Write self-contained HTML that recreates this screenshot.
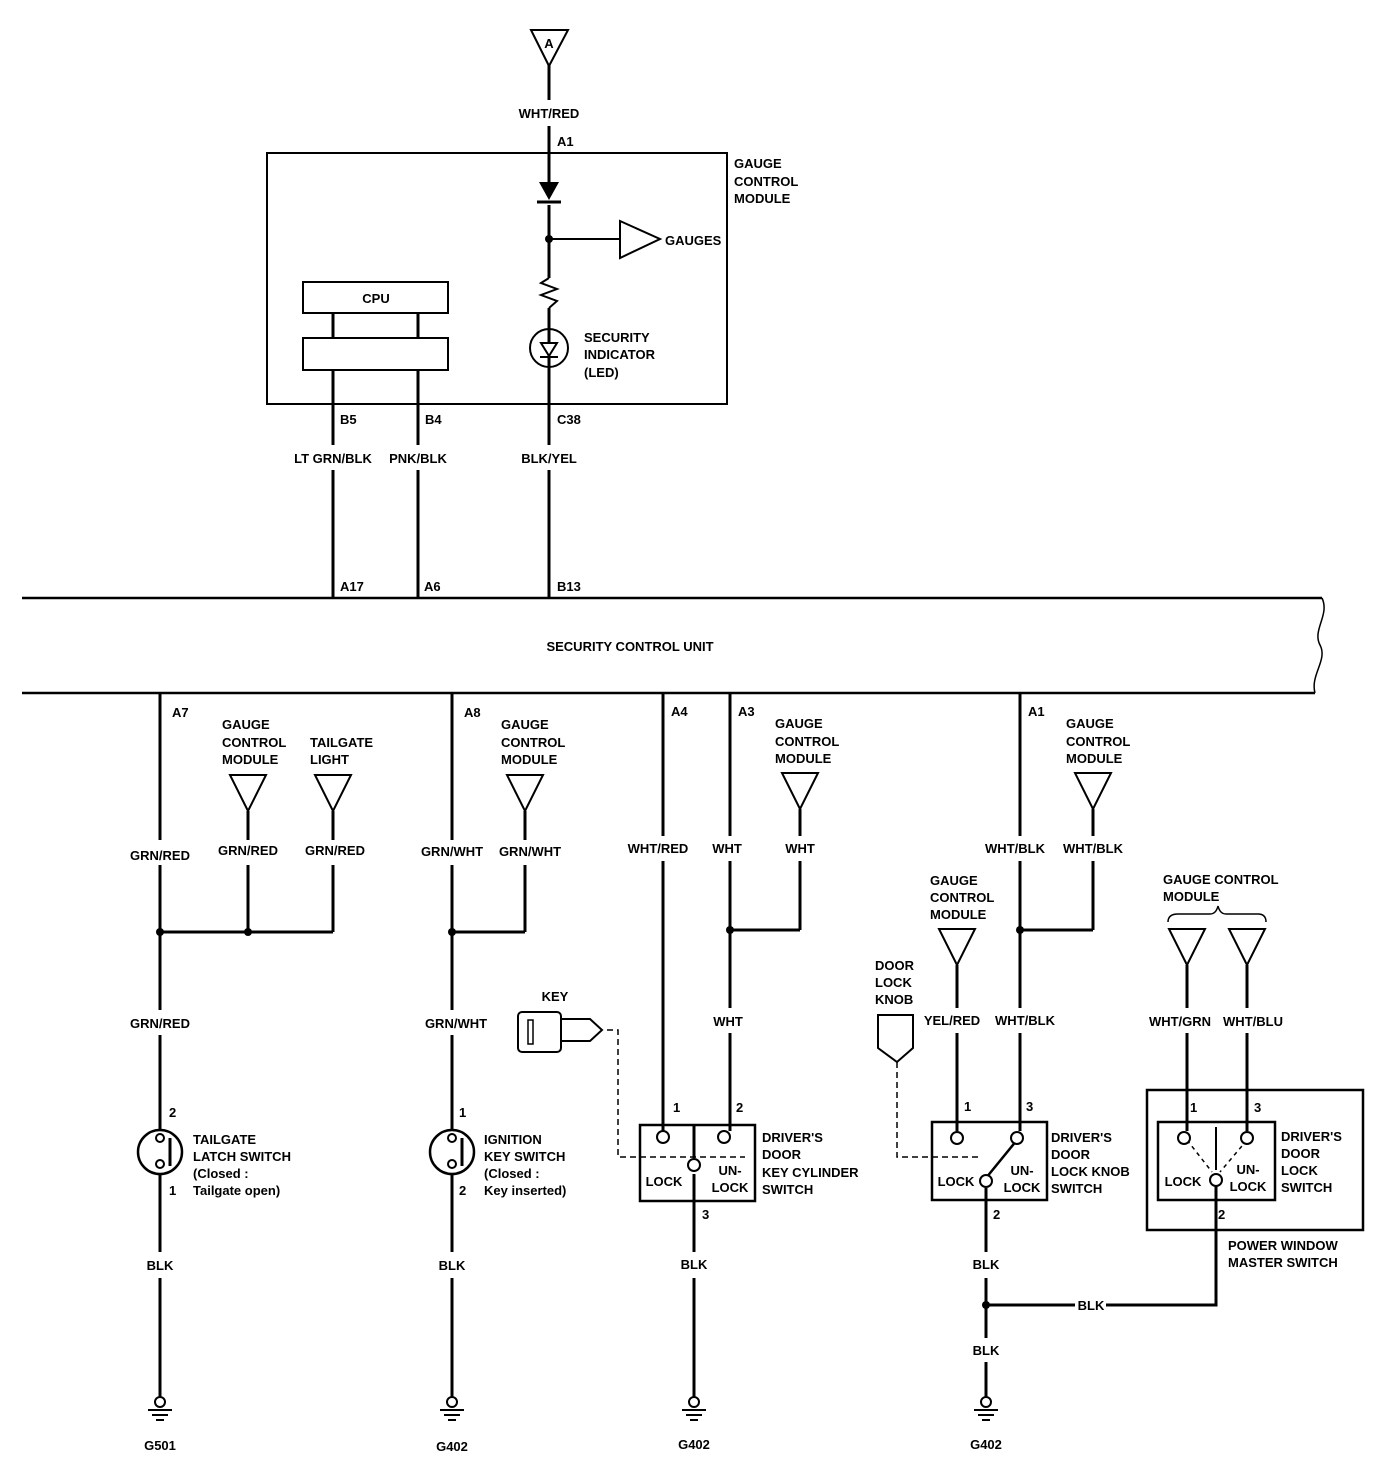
<!DOCTYPE html>
<html><head><meta charset="utf-8"><style>
html,body{margin:0;padding:0;background:#fff}
svg text{font-family:"Liberation Sans Narrow","Liberation Sans",sans-serif;font-weight:bold;font-size:13px;fill:#000}
</style></head><body>
<svg width="1392" height="1474" viewBox="0 0 1392 1474" xmlns="http://www.w3.org/2000/svg">
<defs>
<g id="gnd"><circle cx="0" cy="0" r="5" fill="#fff" stroke="#000" stroke-width="2"/><line x1="-12" y1="8" x2="12" y2="8" stroke="#000" stroke-width="2"/><line x1="-8" y1="13" x2="8" y2="13" stroke="#000" stroke-width="2"/><line x1="-4" y1="18" x2="4" y2="18" stroke="#000" stroke-width="2"/></g>
<g id="tri"><polygon points="-18,0 18,0 0,36" fill="#fff" stroke="#000" stroke-width="2"/></g>
</defs>
<g stroke="#000" fill="none" stroke-width="3">
<!-- top -->
<line x1="549" y1="64" x2="549" y2="100"/>
<line x1="549" y1="126" x2="549" y2="182"/>
<line x1="549" y1="205" x2="549" y2="278"/>
<line x1="549" y1="239" x2="620" y2="239" stroke-width="2"/>
<polyline stroke-width="2" points="549,278 541,283 557,289 541,295 557,301 549,308"/>
<line x1="549" y1="308" x2="549" y2="445"/>
<line x1="549" y1="470" x2="549" y2="598"/>
<line x1="333" y1="313" x2="333" y2="338"/>
<line x1="418" y1="313" x2="418" y2="338"/>
<line x1="333" y1="370" x2="333" y2="445"/><line x1="333" y1="470" x2="333" y2="598"/>
<line x1="418" y1="370" x2="418" y2="445"/><line x1="418" y1="470" x2="418" y2="598"/>
<!-- SCU -->
<line x1="22" y1="598" x2="1322" y2="598" stroke-width="2.5"/>
<line x1="22" y1="693" x2="1315" y2="693" stroke-width="2.5"/>
<path d="M1322 598 C1330 615,1312 630,1320 645 C1328 660,1310 675,1315 693" stroke-width="1.5"/>
<!-- col 160 -->
<line x1="160" y1="693" x2="160" y2="840"/><line x1="160" y1="865" x2="160" y2="1010"/><line x1="160" y1="1035" x2="160" y2="1130"/><line x1="160" y1="1174" x2="160" y2="1252"/><line x1="160" y1="1278" x2="160" y2="1397"/>
<line x1="160" y1="932" x2="333" y2="932"/>
<line x1="248" y1="811" x2="248" y2="840"/><line x1="248" y1="865" x2="248" y2="932"/>
<line x1="333" y1="811" x2="333" y2="840"/><line x1="333" y1="865" x2="333" y2="932"/>
<!-- col 452 -->
<line x1="452" y1="693" x2="452" y2="840"/><line x1="452" y1="865" x2="452" y2="1010"/><line x1="452" y1="1035" x2="452" y2="1130"/><line x1="452" y1="1174" x2="452" y2="1252"/><line x1="452" y1="1278" x2="452" y2="1397"/>
<line x1="452" y1="932" x2="525" y2="932"/>
<line x1="525" y1="811" x2="525" y2="840"/><line x1="525" y1="865" x2="525" y2="932"/>
<!-- col 663/730 -->
<line x1="663" y1="693" x2="663" y2="836"/><line x1="663" y1="861" x2="663" y2="1131"/>
<line x1="730" y1="693" x2="730" y2="836"/><line x1="730" y1="861" x2="730" y2="1008"/><line x1="730" y1="1033" x2="730" y2="1131"/>
<line x1="730" y1="930" x2="800" y2="930"/>
<line x1="800" y1="809" x2="800" y2="836"/><line x1="800" y1="861" x2="800" y2="930"/>
<line x1="694" y1="1125" x2="694" y2="1158"/>
<line x1="694" y1="1174" x2="694" y2="1252"/><line x1="694" y1="1278" x2="694" y2="1397"/>
<!-- col 1020 -->
<line x1="1020" y1="693" x2="1020" y2="836"/><line x1="1020" y1="861" x2="1020" y2="1008"/><line x1="1020" y1="1033" x2="1020" y2="1131"/>
<line x1="1020" y1="930" x2="1093" y2="930"/>
<line x1="1093" y1="809" x2="1093" y2="836"/><line x1="1093" y1="861" x2="1093" y2="930"/>
<line x1="957" y1="965" x2="957" y2="1008"/><line x1="957" y1="1033" x2="957" y2="1131"/>
<line x1="1017" y1="1140" x2="986" y2="1178" stroke-width="2.5"/>
<line x1="986" y1="1188" x2="986" y2="1252"/><line x1="986" y1="1278" x2="986" y2="1338"/><line x1="986" y1="1362" x2="986" y2="1397"/>
<line x1="986" y1="1305" x2="1075" y2="1305"/><polyline points="1106,1305 1216,1305 1216,1186"/>
<!-- power window -->
<line x1="1187" y1="965" x2="1187" y2="1008"/><line x1="1187" y1="1033" x2="1187" y2="1131"/>
<line x1="1247" y1="965" x2="1247" y2="1008"/><line x1="1247" y1="1033" x2="1247" y2="1131"/>
<line x1="1216" y1="1127" x2="1216" y2="1170" stroke-width="2"/>
<!-- boxes -->
<rect x="267" y="153" width="460" height="251" stroke-width="2"/>
<rect x="303" y="282" width="145" height="31" stroke-width="2"/>
<rect x="303" y="338" width="145" height="32" stroke-width="2"/>
<rect x="640" y="1125" width="115" height="76" stroke-width="2.5"/>
<rect x="932" y="1122" width="115" height="78" stroke-width="2.5"/>
<rect x="1147" y="1090" width="216" height="140" stroke-width="2.5"/>
<rect x="1158" y="1122" width="117" height="78" stroke-width="2.5"/>
<!-- dashed -->
<polyline stroke-width="1.5" stroke-dasharray="6,4" points="607,1030 618,1030 618,1157 745,1157"/>
<polyline stroke-width="1.5" stroke-dasharray="6,4" points="897,1062 897,1157 982,1157"/>
<line x1="1187" y1="1140" x2="1212" y2="1172" stroke-width="1.5" stroke-dasharray="4,4"/>
<line x1="1247" y1="1140" x2="1220" y2="1172" stroke-width="1.5" stroke-dasharray="4,4"/>
<!-- key -->
<rect x="518" y="1012" width="43" height="40" rx="4" stroke-width="2"/>
<rect x="528" y="1020" width="5" height="24" stroke-width="1.5"/>
<polyline stroke-width="2" points="561,1019 590,1019 602,1030 590,1041 561,1041"/>
<!-- knob -->
<polygon stroke-width="2" points="878,1015 913,1015 913,1048 897,1062 878,1048"/>
<!-- brace -->
<path d="M1168 922 Q1168 914 1178 914 L1210 914 Q1216 914 1218 906 Q1220 914 1226 914 L1258 914 Q1266 914 1266 922" stroke-width="1.5"/>
</g>
<!-- triangles -->
<polygon points="531,30 568,30 549,66" fill="#fff" stroke="#000" stroke-width="2"/>
<polygon points="620,221 620,258 660,239" fill="#fff" stroke="#000" stroke-width="2"/>
<use href="#tri" x="248" y="775"/><use href="#tri" x="333" y="775"/><use href="#tri" x="525" y="775"/>
<use href="#tri" x="800" y="773"/><use href="#tri" x="1093" y="773"/><use href="#tri" x="957" y="929"/>
<use href="#tri" x="1187" y="929"/><use href="#tri" x="1247" y="929"/>
<!-- diode -->
<polygon points="539,182 559,182 549,200" fill="#000"/>
<line x1="537" y1="202" x2="561" y2="202" stroke="#000" stroke-width="3"/>
<!-- LED -->
<circle cx="549" cy="348" r="19" fill="#fff" stroke="#000" stroke-width="2"/>
<line x1="549" y1="330" x2="549" y2="366" stroke="#000" stroke-width="3"/>
<polygon points="541,343 557,343 549,356" fill="#fff" stroke="#000" stroke-width="2"/>
<line x1="540" y1="357" x2="558" y2="357" stroke="#000" stroke-width="2"/>
<!-- switches round -->
<circle cx="160" cy="1152" r="22" fill="#fff" stroke="#000" stroke-width="2.5"/>
<circle cx="160" cy="1138" r="4" fill="#fff" stroke="#000" stroke-width="2"/><circle cx="160" cy="1164" r="4" fill="#fff" stroke="#000" stroke-width="2"/>
<line x1="170" y1="1138" x2="170" y2="1166" stroke="#000" stroke-width="3"/>
<circle cx="452" cy="1152" r="22" fill="#fff" stroke="#000" stroke-width="2.5"/>
<circle cx="452" cy="1138" r="4" fill="#fff" stroke="#000" stroke-width="2"/><circle cx="452" cy="1164" r="4" fill="#fff" stroke="#000" stroke-width="2"/>
<line x1="462" y1="1138" x2="462" y2="1166" stroke="#000" stroke-width="3"/>
<!-- terminals -->
<g fill="#fff" stroke="#000" stroke-width="2">
<circle cx="663" cy="1137" r="6"/><circle cx="724" cy="1137" r="6"/><circle cx="694" cy="1165" r="6"/>
<circle cx="957" cy="1138" r="6"/><circle cx="1017" cy="1138" r="6"/><circle cx="986" cy="1181" r="6"/>
<circle cx="1184" cy="1138" r="6"/><circle cx="1247" cy="1138" r="6"/><circle cx="1216" cy="1180" r="6"/>
</g>
<circle cx="160" cy="932" r="4"/><circle cx="248" cy="932" r="4"/><circle cx="452" cy="932" r="4"/><circle cx="549" cy="239" r="4"/>
<circle cx="730" cy="930" r="4"/><circle cx="1020" cy="930" r="4"/><circle cx="986" cy="1305" r="4"/>
<!-- grounds -->
<use href="#gnd" x="160" y="1402"/><use href="#gnd" x="452" y="1402"/><use href="#gnd" x="694" y="1402"/><use href="#gnd" x="986" y="1402"/>
<!-- text -->
<g text-anchor="middle">
<text x="549" y="48" font-size="11">A</text>
<text x="549" y="118">WHT/RED</text>
<text x="376" y="303">CPU</text>
<text x="333" y="463">LT GRN/BLK</text><text x="418" y="463">PNK/BLK</text><text x="549" y="463">BLK/YEL</text>
<text x="630" y="651">SECURITY CONTROL UNIT</text>
<text x="160" y="860">GRN/RED</text><text x="248" y="855">GRN/RED</text><text x="335" y="855">GRN/RED</text>
<text x="160" y="1028">GRN/RED</text>
<text x="452" y="856">GRN/WHT</text><text x="530" y="856">GRN/WHT</text><text x="456" y="1028">GRN/WHT</text>
<text x="658" y="853">WHT/RED</text><text x="727" y="853">WHT</text><text x="800" y="853">WHT</text><text x="728" y="1026">WHT</text>
<text x="1015" y="853">WHT/BLK</text><text x="1093" y="853">WHT/BLK</text>
<text x="952" y="1025">YEL/RED</text><text x="1025" y="1025">WHT/BLK</text>
<text x="1180" y="1026">WHT/GRN</text><text x="1253" y="1026">WHT/BLU</text>
<text x="160" y="1270">BLK</text><text x="452" y="1270">BLK</text><text x="694" y="1269">BLK</text>
<text x="986" y="1269">BLK</text><text x="1091" y="1310">BLK</text><text x="986" y="1355">BLK</text>
<text x="160" y="1450">G501</text><text x="452" y="1451">G402</text><text x="694" y="1449">G402</text><text x="986" y="1449">G402</text>
<text x="555" y="1001">KEY</text>
<text x="664" y="1186">LOCK</text><text x="730" y="1175">UN-</text><text x="730" y="1192">LOCK</text>
<text x="956" y="1186">LOCK</text><text x="1022" y="1175">UN-</text><text x="1022" y="1192">LOCK</text>
<text x="1183" y="1186">LOCK</text><text x="1248" y="1174">UN-</text><text x="1248" y="1191">LOCK</text>
</g>
<text x="557" y="146">A1</text>
<text x="734" y="168">GAUGE</text><text x="734" y="186">CONTROL</text><text x="734" y="203">MODULE</text>
<text x="665" y="245">GAUGES</text>
<text x="584" y="342">SECURITY</text><text x="584" y="359">INDICATOR</text><text x="584" y="377">(LED)</text>
<text x="340" y="424">B5</text><text x="425" y="424">B4</text><text x="557" y="424">C38</text>
<text x="340" y="591">A17</text><text x="424" y="591">A6</text><text x="557" y="591">B13</text>
<text x="172" y="717">A7</text><text x="464" y="717">A8</text><text x="671" y="716">A4</text><text x="738" y="716">A3</text><text x="1028" y="716">A1</text>
<text x="222" y="729">GAUGE</text><text x="222" y="747">CONTROL</text><text x="222" y="764">MODULE</text>
<text x="310" y="747">TAILGATE</text><text x="310" y="764">LIGHT</text>
<text x="501" y="729">GAUGE</text><text x="501" y="747">CONTROL</text><text x="501" y="764">MODULE</text>
<text x="775" y="728">GAUGE</text><text x="775" y="746">CONTROL</text><text x="775" y="763">MODULE</text>
<text x="1066" y="728">GAUGE</text><text x="1066" y="746">CONTROL</text><text x="1066" y="763">MODULE</text>
<text x="930" y="885">GAUGE</text><text x="930" y="902">CONTROL</text><text x="930" y="919">MODULE</text>
<text x="1163" y="884">GAUGE CONTROL</text><text x="1163" y="901">MODULE</text>
<text x="875" y="970">DOOR</text><text x="875" y="987">LOCK</text><text x="875" y="1004">KNOB</text>
<text x="169" y="1117">2</text><text x="169" y="1195">1</text>
<text x="193" y="1144">TAILGATE</text><text x="193" y="1161">LATCH SWITCH</text><text x="193" y="1178" font-size="12">(Closed :</text><text x="193" y="1195" font-size="12">Tailgate open)</text>
<text x="459" y="1117">1</text><text x="459" y="1195">2</text>
<text x="484" y="1144">IGNITION</text><text x="484" y="1161">KEY SWITCH</text><text x="484" y="1178" font-size="12">(Closed :</text><text x="484" y="1195" font-size="12">Key inserted)</text>
<text x="673" y="1112">1</text><text x="736" y="1112">2</text><text x="702" y="1219">3</text>
<text x="762" y="1142">DRIVER'S</text><text x="762" y="1159">DOOR</text><text x="762" y="1177">KEY CYLINDER</text><text x="762" y="1194">SWITCH</text>
<text x="964" y="1111">1</text><text x="1026" y="1111">3</text><text x="993" y="1219">2</text>
<text x="1051" y="1142">DRIVER'S</text><text x="1051" y="1159">DOOR</text><text x="1051" y="1176">LOCK KNOB</text><text x="1051" y="1193">SWITCH</text>
<text x="1190" y="1112">1</text><text x="1254" y="1112">3</text><text x="1218" y="1219">2</text>
<text x="1281" y="1141">DRIVER'S</text><text x="1281" y="1158">DOOR</text><text x="1281" y="1175">LOCK</text><text x="1281" y="1192">SWITCH</text>
<text x="1228" y="1250">POWER WINDOW</text><text x="1228" y="1267">MASTER SWITCH</text>
</svg>
</body></html>
